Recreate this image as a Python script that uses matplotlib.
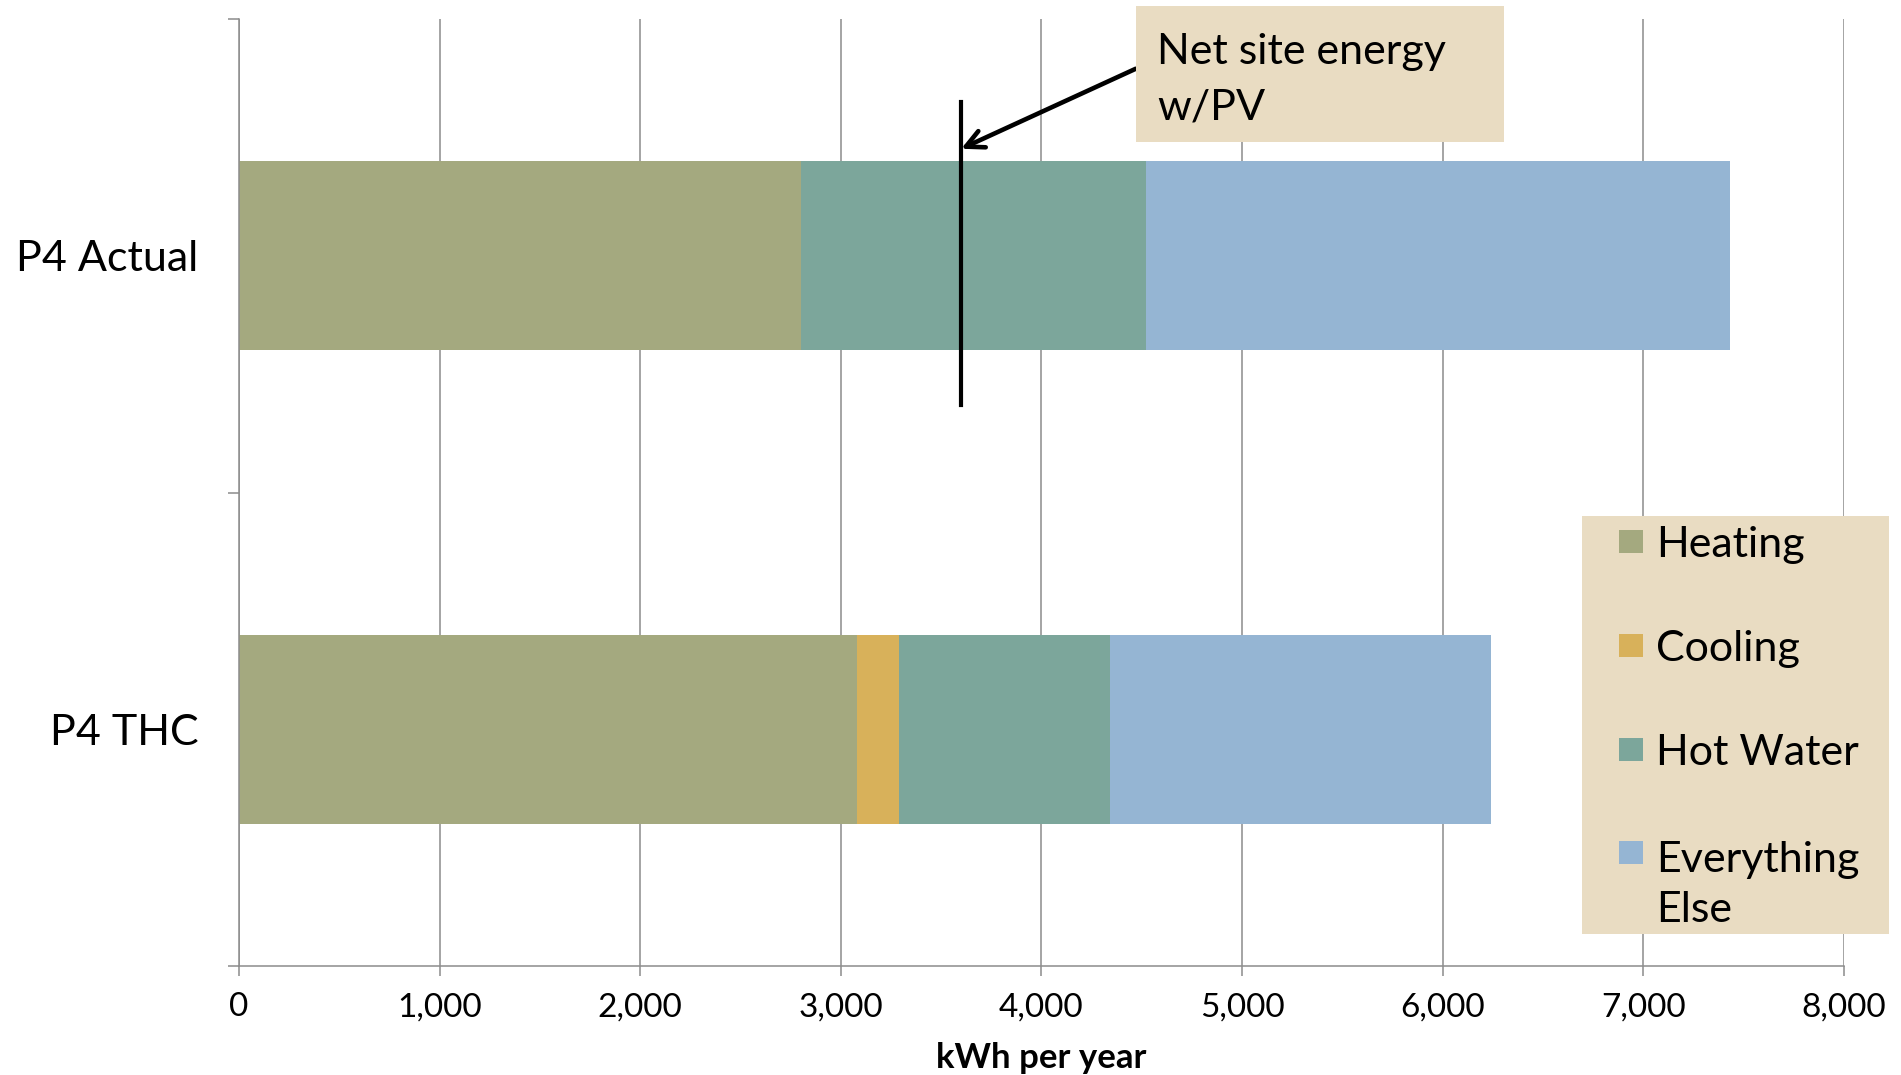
import matplotlib.pyplot as plt
from matplotlib.patches import Rectangle

plt.rcParams['font.family'] = ['Lato', 'DejaVu Sans']

# Data
categories = ["P4 Actual", "P4 THC"]
series_names = ["Heating", "Cooling", "Hot Water", "Everything\nElse"]
heating = [2800, 3080]
cooling = [0, 210]
hot_water = [1720, 1050]
everything_else = [2910, 1900]
net_site_energy = 3600
x_ticks = [0, 1000, 2000, 3000, 4000, 5000, 6000, 7000, 8000]

colors = ["#A4A97F", "#D8B15A", "#7CA69B", "#95B5D3"]
beige = "#E9DCC2"
grey = "#8C8C8C"

W, H = 1901, 1075
fig = plt.figure(figsize=(W / 100, H / 100), dpi=100)
ax = fig.add_axes([0.1257, 0.1014, 0.8443, 0.8809])

y_pos = list(range(len(categories)))
left = [0] * len(categories)
for values, color in zip([heating, cooling, hot_water, everything_else], colors):
    ax.barh(y_pos, values, height=0.4, left=left, color=color, linewidth=0)
    left = [a + b for a, b in zip(left, values)]

ax.set_xlim(0, 8000)
ax.set_ylim(1.5, -0.5)
ax.set_axisbelow(True)
ax.grid(axis="x", color=grey, linewidth=1.1)

# x axis
ax.set_xticks(x_ticks)
ax.set_xticklabels(["{:,}".format(v) for v in x_ticks])
ax.tick_params(axis="x", length=7, width=1.1, color=grey, pad=12, labelsize=24)
ax.set_xlabel("kWh per year", fontsize=25, fontweight="bold", labelpad=14)

# y axis: ticks at category boundaries, labels at centres
ax.set_yticks([-0.5, 0.5, 1.5])
ax.set_yticklabels([])
ax.tick_params(axis="y", which="major", length=8, width=1.1, color=grey)
ax.set_yticks(y_pos, minor=True)
ax.set_yticklabels(categories, minor=True)
ax.tick_params(axis="y", which="minor", length=0, pad=29, labelsize=31)

for side in ["top", "right"]:
    ax.spines[side].set_visible(False)
for side in ["left", "bottom"]:
    ax.spines[side].set_color(grey)
    ax.spines[side].set_linewidth(1.1)

# Net site energy marker
ax.plot([net_site_energy, net_site_energy], [-0.325, 0.315], color="black", linewidth=3)
ax.annotate("", xy=(net_site_energy, -0.226), xytext=(4470, -0.395),
            arrowprops=dict(arrowstyle="->", color="black", linewidth=3.3,
                            mutation_scale=32, shrinkA=0, shrinkB=0),
            annotation_clip=False)

# note box (baseline of the last line at y=119 px)
fig.patches.append(Rectangle((1136 / W, 1 - 142 / H), 368 / W, 136 / H,
                             transform=fig.transFigure, facecolor=beige,
                             edgecolor="none", zorder=5))
fig.text(1157 / W, 1 - 119 / H, "Net site energy\nw/PV", fontsize=31, va="baseline",
         ha="left", linespacing=1.55, zorder=6)

# Legend box
fig.patches.append(Rectangle((1582 / W, 1 - 934 / H), 307 / W, 418 / H,
                             transform=fig.transFigure, facecolor=beige,
                             edgecolor="none", zorder=5))
baselines = [557, 661, 765, 868]
for name, color, yb in zip(series_names, colors, baselines):
    fig.patches.append(Rectangle((1619 / W, 1 - (yb - 4) / H), 24 / W, 23 / H,
                                 transform=fig.transFigure, facecolor=color,
                                 edgecolor="none", zorder=6))
    last = yb + 54 * name.count("\n")
    fig.text(1656 / W, 1 - last / H, name, fontsize=31, va="baseline", ha="left",
             linespacing=1.38, zorder=7)

fig.savefig("out.png", dpi=100)
